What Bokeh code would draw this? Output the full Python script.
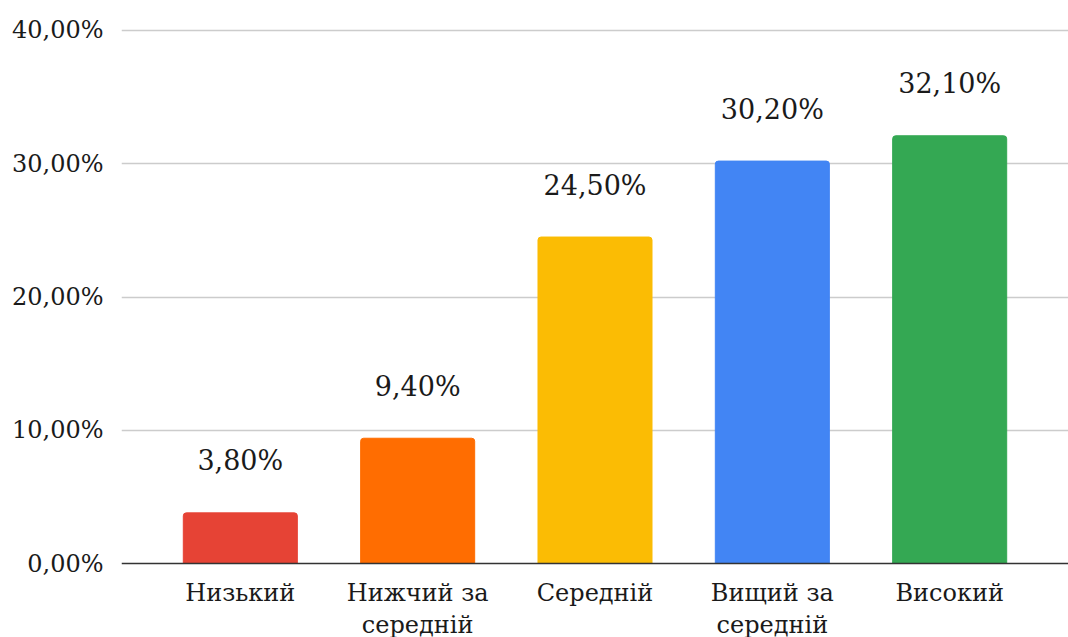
from bokeh.plotting import figure
from bokeh.models import ColumnDataSource, Range1d, FixedTicker, Span
from bokeh.core.properties import value
from bokeh.embed import file_html
from bokeh.resources import INLINE

categories = ["Низький", "Нижчий за\nсередній", "Середній", "Вищий за\nсередній", "Високий"]
values = [3.8, 9.4, 24.5, 30.2, 32.1]
labels = ["3,80%", "9,40%", "24,50%", "30,20%", "32,10%"]
colors = ["#E64335", "#FF6D01", "#FBBC04", "#4285F4", "#34A853"]
y_ticks = [0, 10, 20, 30, 40]
y_tick_labels = ["0,00%", "10,00%", "20,00%", "30,00%", "40,00%"]

FONT = "DejaVu Serif"
xs = list(range(len(categories)))
src = ColumnDataSource(dict(x=xs, top=values, color=colors, label=labels,
                            cat=categories, zero=[0] * len(xs)))

p = figure(width=1068, height=637, output_backend="svg", toolbar_location=None,
           x_range=Range1d(-0.67, len(categories) - 1 + 0.67), y_range=Range1d(-5.553, 40.3),
           min_border_left=121, min_border_right=0, min_border_top=26, min_border_bottom=0)
p.outline_line_color = None
p.background_fill_color = "white"
p.xaxis.visible = False

p.xgrid.grid_line_color = None
p.ygrid.ticker = FixedTicker(ticks=y_ticks[1:])
p.ygrid.grid_line_color = "#cccccc"
p.ygrid.grid_line_width = 1.5

p.vbar(x="x", top="top", width=0.643, color="color", source=src, border_radius=(3, 3, 0, 0))

p.add_layout(Span(location=0, dimension="width", line_color="#333333", line_width=1.5))

p.text(x="x", y="top", text="label", source=src, text_align="center",
       text_baseline="middle", y_offset=-52, text_font=value(FONT),
       text_font_size="27px", text_color="#1a1a1a")

p.text(x="x", y="zero", text="cat", source=src, text_align="center",
       text_baseline="top", y_offset=15, text_font=value(FONT),
       text_font_size="24px", text_color="#1a1a1a", text_line_height=1.16)

p.yaxis.ticker = FixedTicker(ticks=y_ticks)
p.yaxis.major_label_overrides = {t: l for t, l in zip(y_ticks, y_tick_labels)}
p.yaxis.axis_line_color = None
p.yaxis.major_tick_line_color = None
p.yaxis.minor_tick_line_color = None
p.yaxis.major_label_standoff = 12
p.yaxis.major_label_text_font = FONT
p.yaxis.major_label_text_font_size = "24px"
p.yaxis.major_label_text_color = "#1a1a1a"

open("out.html", "w").write(file_html(p, INLINE))
